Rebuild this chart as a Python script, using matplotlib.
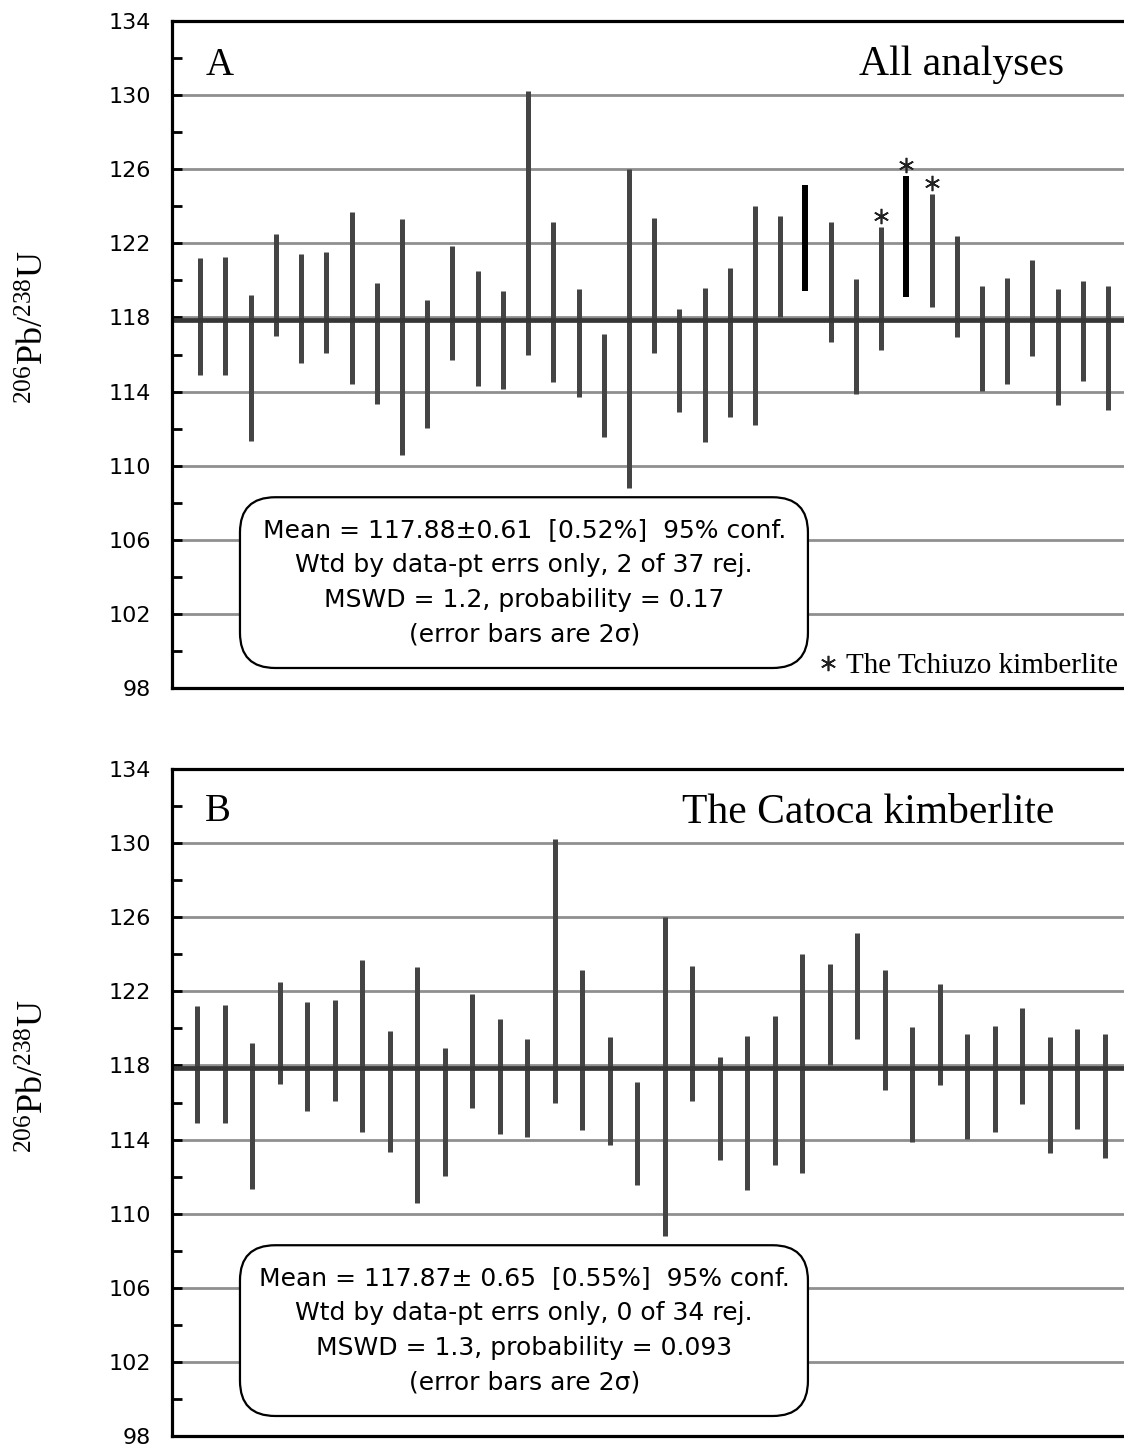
import matplotlib
matplotlib.use('Agg')
import matplotlib.pyplot as plt
import numpy as np
from matplotlib.patches import FancyBboxPatch

plt.rcParams['mathtext.fontset'] = 'custom'
plt.rcParams['mathtext.rm'] = 'Liberation Serif'
plt.rcParams['mathtext.it'] = 'Liberation Serif:italic'

# data: 2-sigma error bar limits of each analysis (all 37 analyses)
upper = [121.19, 121.28, 119.21, 122.49, 121.44, 121.51, 123.71, 119.84, 123.33, 118.92,
         121.87, 120.50, 119.44, 130.20, 123.17, 119.51, 117.08, 126.00, 123.39, 118.45,
         119.59, 120.67, 124.00, 123.48, 125.14, 123.17, 120.05, 122.86, 125.62, 124.68,
         122.41, 119.68, 120.13, 121.12, 119.53, 119.98, 119.68]
lower = [114.92, 114.92, 111.35, 116.99, 115.53, 116.07, 114.40, 113.33, 110.59, 112.04,
         115.68, 114.31, 114.15, 116.00, 114.54, 113.71, 111.57, 108.81, 116.07, 112.88,
         111.30, 112.65, 112.18, 118.02, 119.44, 116.70, 113.87, 116.24, 119.12, 118.59,
         116.94, 114.04, 114.41, 115.93, 113.26, 114.56, 113.03]
rejected = [24, 28]          # rejected in panel A (drawn black)
tchiuzo = [27, 28, 29]       # Tchiuzo kimberlite analyses (asterisk)

mean_a = 117.88
mean_b = 117.87

text_a = ['Mean = 117.88\u00b10.61  [0.52%]  95% conf.',
          'Wtd by data-pt errs only, 2 of 37 rej.',
          'MSWD = 1.2, probability = 0.17',
          '(error bars are 2\u03c3)']
text_b = ['Mean = 117.87\u00b1 0.65  [0.55%]  95% conf.',
          'Wtd by data-pt errs only, 0 of 34 rej.',
          'MSWD = 1.3, probability = 0.093',
          '(error bars are 2\u03c3)']

yticks = np.arange(98, 135, 4)
ylabel = r'$^{206}$Pb/$^{238}$U'

fig = plt.figure(figsize=(11.24, 14.46), dpi=100)
axA = fig.add_axes([172/1124, 1-688/1446, 952/1124, 667/1446])
axB = fig.add_axes([172/1124, 1-1436/1446, 952/1124, 667/1446])

upper = np.array(upper)
lower = np.array(lower)
keep = [i for i in range(len(upper)) if i not in tchiuzo]


def style_axis(ax):
    ax.set_ylim(98, 134)
    ax.set_yticks(yticks)
    ax.set_yticks(np.arange(100, 134, 4), minor=True)
    ax.set_yticklabels([str(v) for v in yticks], fontsize=16, family='DejaVu Sans')
    ax.tick_params(axis='y', which='both', direction='in', length=7, width=2, pad=15)
    ax.tick_params(axis='x', bottom=False, labelbottom=False)
    ax.grid(axis='y', color='#8f8f8f', lw=2)
    ax.set_axisbelow(True)
    for s in ['left', 'top', 'bottom']:
        ax.spines[s].set_linewidth(2.3)
        ax.spines[s].set_zorder(6)
    ax.spines['right'].set_visible(False)


def stats_box(ax, lines):
    box = FancyBboxPatch((0.0714, 0.030), 0.668 - 0.0714, 0.286 - 0.030,
                         boxstyle='round,pad=0,rounding_size=0.037',
                         mutation_aspect=952/667, transform=ax.transAxes,
                         fc='white', ec='black', lw=1.6, zorder=5)
    ax.add_patch(box)
    for line, yy in zip(lines, [0.2264, 0.1739, 0.1214, 0.0690]):
        ax.text(0.37, yy, line, transform=ax.transAxes, ha='center', va='baseline',
                fontsize=18, family='DejaVu Sans', zorder=6)


# Panel A: all analyses
xa = np.arange(len(upper))
normal = [i for i in xa if i not in rejected]
axA.vlines(xa[normal], lower[normal], upper[normal], color='#444444', lw=3.6,
           capstyle='butt', zorder=3)
axA.vlines(xa[rejected], lower[rejected], upper[rejected], color='black', lw=4.3,
           capstyle='butt', zorder=3)
axA.axhline(mean_a, color='#363636', lw=3.4, zorder=4)
axA.plot(xa[tchiuzo], upper[tchiuzo] + 0.6, ls='none', marker=(6, 2, 0), ms=11,
         mew=1.2, color='#222222', zorder=4)
axA.set_xlim(-1.12, 36.63)
style_axis(axA)
stats_box(axA, text_a)
axA.text(0.035, 0.919, 'A', transform=axA.transAxes, fontsize=28,
         family='Liberation Serif', va='baseline', ha='left')
axA.text(0.829, 0.919, 'All analyses', transform=axA.transAxes, fontsize=30,
         family='Liberation Serif', va='baseline', ha='center')
axA.plot([0.689], [0.0375], transform=axA.transAxes, ls='none', marker=(6, 2, 0),
         ms=11, mew=1.2, color='#222222', clip_on=False, zorder=6)
axA.text(0.9937, 0.0225, 'The Tchiuzo kimberlite', transform=axA.transAxes,
         fontsize=21, family='Liberation Serif', va='baseline', ha='right')

# Panel B: Catoca kimberlite only
xb = np.arange(len(keep))
axB.vlines(xb, lower[keep], upper[keep], color='#444444', lw=3.6,
           capstyle='butt', zorder=3)
axB.axhline(mean_b, color='#363636', lw=3.4, zorder=4)
axB.set_xlim(-0.92, 33.7)
style_axis(axB)
stats_box(axB, text_b)
axB.text(0.035, 0.922, 'B', transform=axB.transAxes, fontsize=28,
         family='Liberation Serif', va='baseline', ha='left')
axB.text(0.731, 0.919, 'The Catoca kimberlite', transform=axB.transAxes, fontsize=30,
         family='Liberation Serif', va='baseline', ha='center')

# y labels
for yc in [1 - 327/1446, 1 - 1076/1446]:
    fig.text(35/1124, yc, ylabel, rotation=90, ha='center', va='center',
             fontsize=26, family='Liberation Serif')

fig.savefig('out.png', dpi=100)
